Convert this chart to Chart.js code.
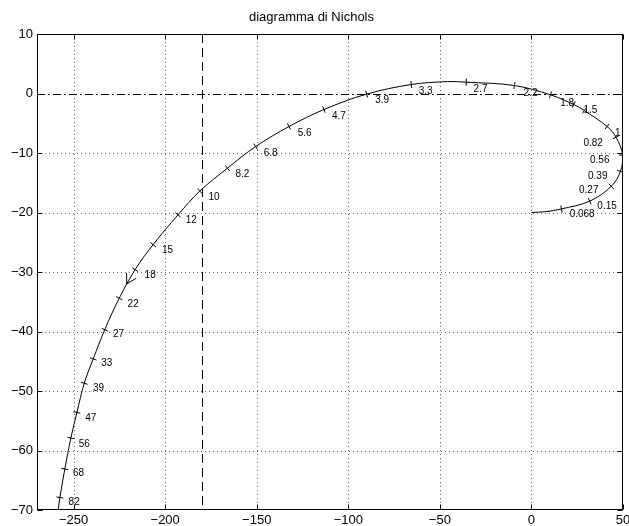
<!DOCTYPE html>
<html>
<head>
<meta charset="utf-8">
<script src="https://cdn.jsdelivr.net/npm/chart.js@4"></script>
<style>
  html, body { margin: 0; padding: 0; background: #fff; }
  #wrap { width: 629px; height: 526px; }
</style>
</head>
<body>
<div id="wrap"><canvas id="c" width="629" height="526"></canvas></div>
<script>
// ---- data ----
const xTickValues = [-250, -200, -150, -100, -50, 0, 50];
const yTickValues = [-70, -60, -50, -40, -30, -20, -10, 0, 10];

// Nichols curve: phase (deg) and gain (dB)
const curvePhase = [0, 8, 16.4, 31.8, 43.6, 48.6, 49.8, 46.2, 41.3, 28.9, 23.1, 10.4, -9.3, -35.6, -46, -65.6, -90.0,
  -113.3, -132.4, -150.6, -166.0, -181.1, -193.0, -206.6, -216.4, -225.1, -233.0, -239.3, -244.2, -248.2, -251.5, -254.8, -257.5, -258.4];
const curveGain = [-20, -19.85, -19.4, -18.1, -15.6, -13.1, -10.3, -7.34, -5.55, -2.86, -1.85, -0.22, 1.34, 1.90, 2.0, 1.51, -0.1,
  -2.69, -5.55, -8.91, -12.55, -16.4, -20.4, -25.4, -29.6, -34.4, -39.7, -44.6, -48.7, -53.6, -57.9, -63.1, -67.9, -70];

// frequency markers on the curve
const freqLabels = ['0.068', '0.15', '0.27', '0.39', '0.56', '0.82', '1', '', '1.5', '1.8', '2.2', '2.7', '3.3', '3.9', '4.7', '5.6', '6.8', '8.2',
  '10', '12', '15', '18', '22', '27', '33', '39', '47', '56', '68', '82'];
const markPhase = [16.4, 31.8, 43.6, 48.6, 49.8, 46.2, 41.3, 28.9, 23.1, 10.4, -9.3, -35.6, -65.6, -90.0, -113.3, -132.4, -150.6, -166.0,
  -181.1, -193.0, -206.6, -216.4, -225.1, -233.0, -239.3, -244.2, -248.2, -251.5, -254.8, -257.5];
const markGain = [-19.4, -18.1, -15.6, -13.1, -10.3, -7.34, -5.55, -2.86, -1.85, -0.22, 1.34, 1.90, 1.51, -0.1, -2.69, -5.55, -8.91, -12.55,
  -16.4, -20.4, -25.4, -29.6, -34.4, -39.7, -44.6, -48.7, -53.6, -57.9, -63.1, -67.9];
// label anchor (text centre) in data coordinates
const labelPhase = [27.7, 41.3, 31.3, 36.2, 37.3, 33.7, 47.1, 0, 32.2, 19.5, -0.5, -27.8, -57.8, -81.5, -105.1, -123.8, -142.4, -157.8,
  -173.3, -185.7, -198.7, -208.2, -217.5, -225.5, -231.9, -236.4, -240.6, -244.2, -247.3, -249.7];
const labelGain = [-20.3, -18.9, -16.3, -13.9, -11.3, -8.35, -6.67, 0, -2.86, -1.63, 0.05, 0.79, 0.39, -1.18, -3.82, -6.67, -10.03, -13.5,
  -17.4, -21.3, -26.3, -30.6, -35.5, -40.4, -45.4, -49.6, -54.5, -59.0, -63.9, -68.7];

// direction arrow on the curve
const arrowPhase = -221;
const arrowGain = -32;

// reference lines
const critPhase = -180;
const zeroGain = 0;

const FONT = '"Liberation Sans", Arial, Helvetica, sans-serif';
const fmt = v => (v < 0 ? '\u2212' + Math.abs(v) : String(v));

const decor = {
  id: 'decor',
  beforeDatasetsDraw(chart) {
    const { ctx, chartArea: a, scales: { x, y } } = chart;
    ctx.save();
    ctx.beginPath();
    ctx.rect(a.left, a.top, a.right - a.left, a.bottom - a.top);
    ctx.clip();
    // dotted grid
    ctx.strokeStyle = '#666';
    ctx.lineWidth = 1;
    ctx.setLineDash([1, 3]);
    xTickValues.forEach(v => {
      const px = Math.round(x.getPixelForValue(v)) + 0.5;
      ctx.beginPath(); ctx.moveTo(px, a.top); ctx.lineTo(px, a.bottom); ctx.stroke();
    });
    yTickValues.forEach(v => {
      if (v === zeroGain) return;
      const py = Math.round(y.getPixelForValue(v)) + 0.5;
      ctx.beginPath(); ctx.moveTo(a.left, py); ctx.lineTo(a.right, py); ctx.stroke();
    });
    // dashed -180 line
    ctx.strokeStyle = '#000';
    ctx.setLineDash([9, 5]);
    const cx = Math.round(x.getPixelForValue(critPhase)) + 0.5;
    ctx.beginPath(); ctx.moveTo(cx, a.top); ctx.lineTo(cx, a.bottom); ctx.stroke();
    // dash-dot 0 dB line
    ctx.setLineDash([8, 3, 2, 3]);
    const zy = Math.round(y.getPixelForValue(zeroGain)) + 0.5;
    ctx.beginPath(); ctx.moveTo(a.left, zy); ctx.lineTo(a.right, zy); ctx.stroke();
    ctx.restore();
  },
  afterDatasetsDraw(chart) {
    const { ctx, chartArea: a, scales: { x, y } } = chart;
    ctx.save();
    ctx.beginPath();
    ctx.rect(a.left, a.top, a.right - a.left, a.bottom - a.top);
    ctx.clip();
    ctx.strokeStyle = '#000';
    ctx.lineWidth = 1;
    const P = (ph, g) => [x.getPixelForValue(ph), y.getPixelForValue(g)];
    // perpendicular marker ticks
    for (let i = 0; i < markPhase.length; i++) {
      const [px, py] = P(markPhase[i], markGain[i]);
      const prev = i > 0 ? P(markPhase[i - 1], markGain[i - 1]) : P(curvePhase[0], curveGain[0]);
      const next = i < markPhase.length - 1 ? P(markPhase[i + 1], markGain[i + 1]) : P(curvePhase[curvePhase.length - 1], curveGain[curveGain.length - 1]);
      let dx = next[0] - prev[0], dy = next[1] - prev[1];
      const L = Math.hypot(dx, dy) || 1;
      dx /= L; dy /= L;
      const h = 3.5;
      ctx.beginPath();
      ctx.moveTo(px - dy * h, py + dx * h);
      ctx.lineTo(px + dy * h, py - dx * h);
      ctx.stroke();
    }
    // arrow head
    {
      const [tx, ty] = P(arrowPhase, arrowGain);
      const i18 = freqLabels.indexOf('18'), i22 = freqLabels.indexOf('22');
      const a1 = P(markPhase[i18], markGain[i18]), a2 = P(markPhase[i22], markGain[i22]);
      const ang = Math.atan2(a1[1] - a2[1], a1[0] - a2[0]); // backwards direction
      const len = 11, spread = Math.PI / 6;
      ctx.beginPath();
      ctx.moveTo(tx + len * Math.cos(ang - spread), ty + len * Math.sin(ang - spread));
      ctx.lineTo(tx, ty);
      ctx.lineTo(tx + len * Math.cos(ang + spread), ty + len * Math.sin(ang + spread));
      ctx.stroke();
    }
    ctx.restore();
    // labels
    ctx.save();
    ctx.fillStyle = '#000';
    ctx.font = '10px ' + FONT;
    ctx.textAlign = 'center';
    ctx.textBaseline = 'middle';
    for (let i = 0; i < freqLabels.length; i++) {
      if (!freqLabels[i]) continue;
      ctx.fillText(freqLabels[i], x.getPixelForValue(labelPhase[i]), y.getPixelForValue(labelGain[i]));
    }
    ctx.restore();
  },
  afterDraw(chart) {
    const { ctx, chartArea: a, scales: { x, y } } = chart;
    ctx.save();
    ctx.strokeStyle = '#000';
    ctx.lineWidth = 1;
    const L = Math.round(a.left) + 0.5, R = Math.round(a.right) - 0.5;
    const T = Math.round(a.top) + 0.5, B = Math.round(a.bottom) - 0.5;
    ctx.strokeRect(L, T, R - L, B - T);
    const tl = 5;
    ctx.beginPath();
    xTickValues.forEach(v => {
      const px = Math.round(x.getPixelForValue(v)) + 0.5;
      ctx.moveTo(px, B); ctx.lineTo(px, B - tl);
      ctx.moveTo(px, T); ctx.lineTo(px, T + tl);
    });
    yTickValues.forEach(v => {
      const py = Math.round(y.getPixelForValue(v)) + 0.5;
      ctx.moveTo(L, py); ctx.lineTo(L + tl, py);
      ctx.moveTo(R, py); ctx.lineTo(R - tl, py);
    });
    ctx.stroke();
    ctx.restore();
  }
};

new Chart(document.getElementById('c'), {
  type: 'scatter',
  data: {
    datasets: [{
      data: curvePhase.map((p, i) => ({ x: p, y: curveGain[i] })),
      showLine: true,
      borderColor: '#000',
      borderWidth: 1,
      pointRadius: 0,
      tension: 0.35,
      fill: false
    }]
  },
  options: {
    responsive: false,
    animation: false,
    devicePixelRatio: 1,
    layout: { padding: { left: 0, right: 6, top: 0, bottom: 0 } },
    plugins: {
      legend: { display: false },
      tooltip: { enabled: false },
      title: {
        display: true,
        text: 'diagramma di Nichols',
        color: '#000',
        font: { family: FONT, size: 13, weight: 'normal', lineHeight: 1.2 },
        padding: { top: 10, bottom: 8.4 }
      }
    },
    scales: {
      x: {
        type: 'linear',
        min: -270,
        max: 50,
        afterBuildTicks: s => { s.ticks = xTickValues.map(v => ({ value: v })); },
        ticks: {
          color: '#000',
          font: { family: FONT, size: 13 },
          padding: 3,
          autoSkip: false,
          maxRotation: 0,
          callback: v => fmt(v)
        },
        grid: { display: false, drawTicks: false },
        border: { display: false },
        afterFit: s => { s.height = 16; s.paddingLeft = 0; s.paddingRight = 0; }
      },
      y: {
        type: 'linear',
        min: -70,
        max: 10,
        afterBuildTicks: s => { s.ticks = yTickValues.map(v => ({ value: v })); },
        ticks: {
          color: '#000',
          font: { family: FONT, size: 13 },
          padding: 4,
          autoSkip: false,
          callback: v => fmt(v)
        },
        grid: { display: false, drawTicks: false },
        border: { display: false },
        afterFit: s => { s.width = 37; s.paddingTop = 0; s.paddingBottom = 0; }
      }
    }
  },
  plugins: [decor]
});
</script>
</body>
</html>
